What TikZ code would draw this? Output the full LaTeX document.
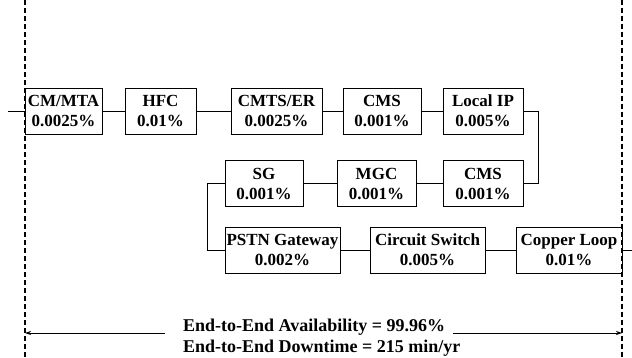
\documentclass[tikz,border=0pt]{standalone}
\usepackage{fontspec}
\setmainfont{Liberation Serif}
\usetikzlibrary{arrows.meta}
\begin{document}
\begin{tikzpicture}[x=1pt,y=-1pt,
  blk/.style={draw, line width=0.9pt, inner sep=0pt, minimum height=46pt, align=center,
    font=\fontsize{17}{20}\selectfont\bfseries},
  wire/.style={line width=0.8pt},
  bound/.style={line width=1.2pt, dash pattern=on 5pt off 3pt},
  arr/.style={line width=0.8pt, -{Stealth[length=6pt,width=4pt]}}]
\useasboundingbox (0,0) rectangle (632,358);
% row 1
\node[blk, minimum width=77pt] (cm) at (63.5,111) {CM/MTA\\0.0025\%};
\node[blk, minimum width=71pt] (hfc) at (160.5,111) {HFC\\0.01\%};
\node[blk, minimum width=91pt] (cmts) at (276.5,111) {CMTS/ER\\0.0025\%};
\node[blk, minimum width=78pt] (cms) at (382,111) {CMS\\0.001\%};
\node[blk, minimum width=80pt] (lip) at (483,111) {Local IP\\0.005\%};
% row 2
\node[blk, minimum width=78pt] (sg) at (264,183.5) {SG\\0.001\%};
\node[blk, minimum width=79pt] (mgc) at (376.5,183.5) {MGC\\0.001\%};
\node[blk, minimum width=80pt] (cmsb) at (483,183.5) {CMS\\0.001\%};
% row 3
\node[blk, minimum width=115pt] (pstn) at (282.5,250) {PSTN Gateway\\0.002\%};
\node[blk, minimum width=115pt] (cs) at (427.5,250) {Circuit Switch\\0.005\%};
\node[blk, minimum width=106pt] (cl) at (569,250) {Copper Loop\\0.01\%};
% connectors
\coordinate (in) at (8,111);
\coordinate (out) at (632,250);
\draw[wire] (in) -- (cm.west);
\draw[wire] (cm.east) -- (hfc.west);
\draw[wire] (hfc.east) -- (cmts.west);
\draw[wire] (cmts.east) -- (cms.west);
\draw[wire] (cms.east) -- (lip.west);
\draw[wire] (lip.east) -- ++(15,0) |- (cmsb.east);
\draw[wire] (cmsb.west) -- (mgc.east);
\draw[wire] (mgc.west) -- (sg.east);
\draw[wire] (sg.west) -- ++(-17,0) |- (pstn.west);
\draw[wire] (pstn.east) -- (cs.west);
\draw[wire] (cs.east) -- (cl.west);
\draw[wire] (cl.east) -- (out);
% boundaries
\coordinate (lt) at (25,0);
\coordinate (lb) at (25,358);
\coordinate (rt) at (622,0);
\coordinate (rb) at (622,358);
\draw[bound] (lt) -- (lb);
\draw[bound] (rt) -- (rb);
% summary
\node[anchor=west, align=left, inner sep=0pt, font=\fontsize{18}{21}\selectfont\bfseries] (sum) at (183,337.5)
  {End-to-End Availability = 99.96\%\\End-to-End Downtime = 215 min/yr};
\coordinate (la) at (25,333);
\coordinate (ra) at (622,333);
\coordinate (las) at (165,333);
\coordinate (ras) at (453,333);
\draw[arr] (las) -- (la);
\draw[arr] (ras) -- (ra);
\end{tikzpicture}
\end{document}
